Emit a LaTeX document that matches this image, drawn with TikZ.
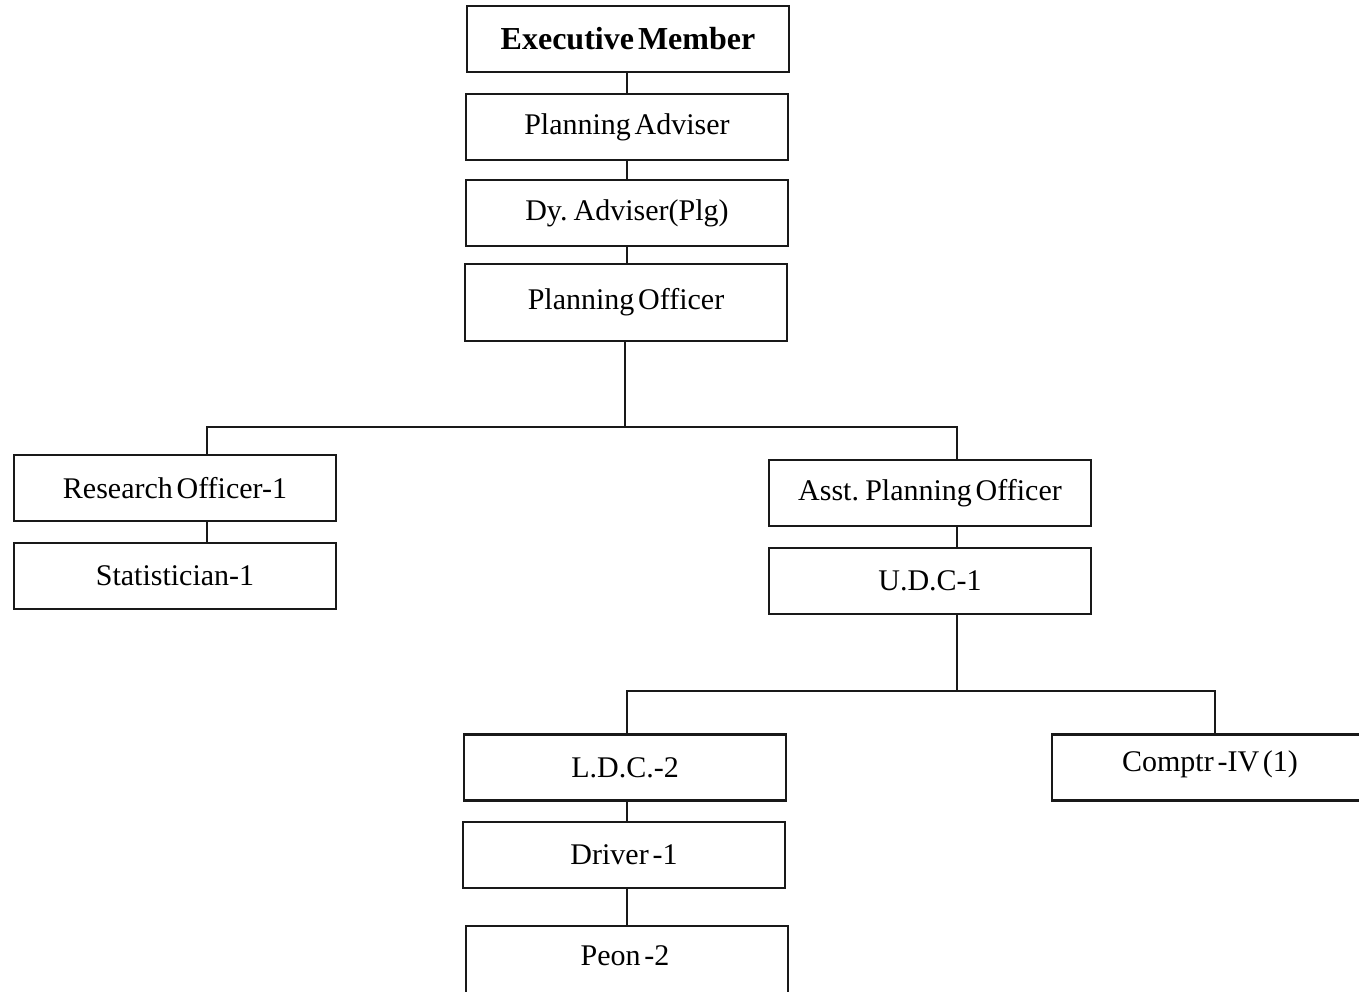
\documentclass[tikz,border=0pt]{standalone}
\usepackage{fontspec}
\setmainfont[WordSpace=0.5]{Liberation Serif}
\begin{document}
\begin{tikzpicture}[x=1pt,y=-1pt,
  box/.style={draw=black!90, line width=2.4pt, minimum width=322pt, minimum height=66pt,
    inner sep=0pt, font=\fontsize{30}{36}\selectfont},
  lbl/.style={inner sep=0pt, font=\fontsize{30}{36}\selectfont},
  link/.style={draw=black!90, line width=2.4pt}]
\useasboundingbox (0,0) rectangle (1359,992);
\clip (0,0) rectangle (1359,992);
% top chain
\node[box, font=\fontsize{32}{38}\selectfont\bfseries] (em) at (628,39) {Executive Member};
\node[box] (pa) at (627,127) {Planning Adviser};
\node[box] (dy) at (627,213) {Dy. Adviser(Plg)};
\node[box, minimum height=77pt] (po) at (626,302.5) {Planning Officer};
\draw[link] (pa.north) -- (pa.north |- em.south);
\draw[link] (pa.south) -- (dy.north);
\draw[link] (dy.south) -- (dy.south |- po.north);
% first branching
\node[box] (ro) at (175,488) {Research Officer-1};
\node[box] (st) at (175,576) {Statistician-1};
\node[box] (apo) at (930,493) {Asst. Planning Officer};
\node[box] (udc) at (930,581) {U.D.C-1};
\coordinate (b1) at (625,427);
\draw[link] (po.south -| b1) -- (b1);
\draw[link] (207,455) coordinate (roin) |- (b1) -| (957,460) coordinate (apoin);
\draw[link] (207,521) -- (207,543);
\draw[link] (957,526) -- (957,548);
% second branching
\node[box] (ldc) at (625,767.5) {L.D.C.-2};
\node[box] (drv) at (624,855) {Driver -1};
\node[box, minimum height=90pt] (peon) at (627,971) {};
\node[lbl] at (625,956) {Peon -2};
\node[box, minimum width=330pt] (cmp) at (1217,767.5) {};
\node[lbl] at (1210,764) {Comptr -IV (1)};
\coordinate (b2) at (957,691);
\draw[link] (957,614) -- (b2);
\draw[link] (627,735) |- (b2) -| (1215,735);
\draw[link] (627,800) -- (627,822);
\draw[link] (627,888) -- (627,926);
\end{tikzpicture}
\end{document}
